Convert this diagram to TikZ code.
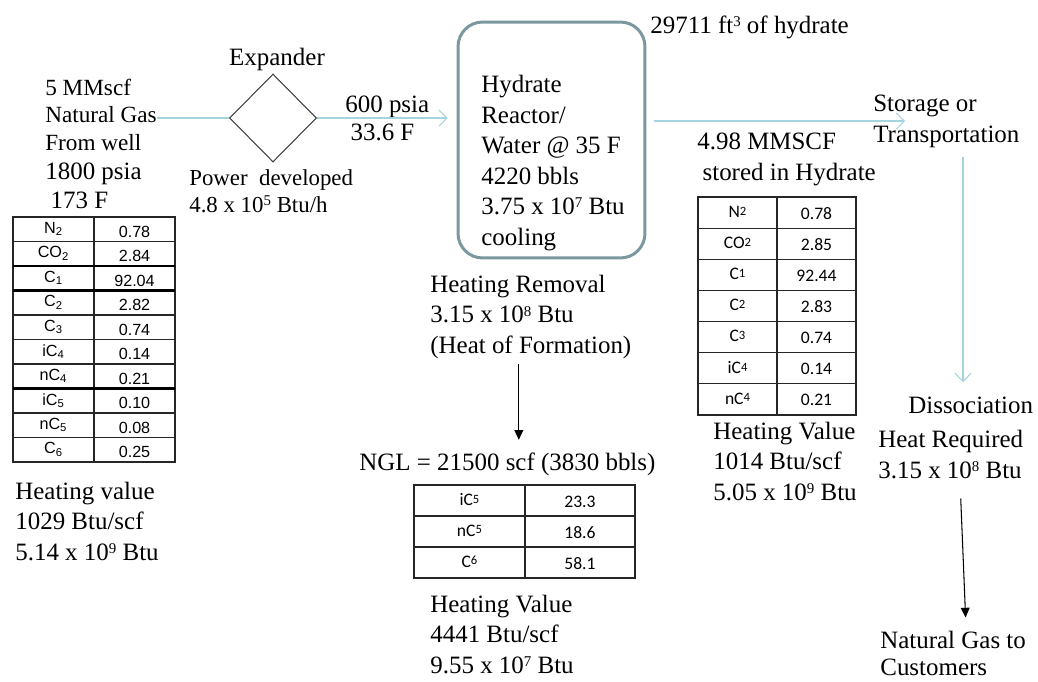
\documentclass[tikz,border=0pt]{standalone}
\usepackage{fontspec}
\setmainfont{Liberation Serif}
\newfontfamily\tabfont{Liberation Sans}
\newfontfamily\celfont{Carlito}
\usetikzlibrary{arrows.meta, shapes.geometric, positioning}

\definecolor{gasblue}{RGB}{165,212,222}
\definecolor{reactorgray}{RGB}{122,152,158}
\newcommand{\smalldigit}[1]{\raisebox{1.3pt}{\fontsize{7.2}{8}\selectfont #1}}
\newcommand{\pow}[1]{\raisebox{3.8pt}{\fontsize{8.5}{9}\selectfont #1}}

\tikzset{
  txt/.style={anchor=base west, inner sep=0pt, align=left, font=\fontsize{14.2}{17.2}\selectfont},
  cell/.style={inner sep=0pt, font=\tabfont\fontsize{9.2}{10}\selectfont},
  calcell/.style={inner sep=0pt, font=\celfont\fontsize{10}{11}\selectfont},
  gasline/.style={draw=gasblue, line width=0.6pt},
  gasarrow/.style={gasline, -{Straight Barb[length=4.5pt,width=9pt]}},
  heatarrow/.style={black, line width=0.6pt, -{Triangle[length=5.5pt,width=5pt]}},
  tabline/.style={black!85, line width=0.6pt},
}

\begin{document}
\begin{tikzpicture}[x=0.02cm, y=-0.02cm]
  \useasboundingbox (0,0) rectangle (1038,681);

  % feed gas (text nodes sit on the baseline of their last line)
  \node[txt, font=\fontsize{13.2}{15.4}\selectfont] (feed) at (45,150) {5 MMscf\\Natural Gas\\From well};
  \node[txt, font=\fontsize{14.2}{16.4}\selectfont] (feedcond) at (45,208) {1800 psia\\\hspace{3pt}173 F};
  \draw[tabline] (13,217) rectangle (175,462); \draw[tabline] (94,217) -- (94,462);
  \foreach \i in {1,...,9} \draw[tabline] (13,217+24.5*\i) -- (175,217+24.5*\i);
  \foreach \i in {2,3,7} \draw[black, line width=1.2pt] (13,217+24.5*\i) -- (175,217+24.5*\i);
  \foreach \sp/\val [count=\i] in {N\textsubscript{2}/0.78, CO\textsubscript{2}/2.84, C\textsubscript{1}/92.04,
      C\textsubscript{2}/2.82, C\textsubscript{3}/0.74, iC\textsubscript{4}/0.14, nC\textsubscript{4}/0.21,
      iC\textsubscript{5}/0.10, nC\textsubscript{5}/0.08, C\textsubscript{6}/0.25} {
    \node[cell] (feedsp\i) at (53.5,204.5+24.5*\i) {\sp};
    \node[cell] (feedval\i) at (134.5,207+24.5*\i) {\val};
  }
  \node[txt] (feedheat) at (15,560) {Heating value\\1029 Btu/scf\\5.14 x 10\pow{9} Btu};

  % expander
  \node[diamond, draw=black!75, line width=0.6pt, minimum width=1.74cm, minimum height=1.76cm, inner sep=0pt] (expander) at (273,118) {};
  \node[txt, anchor=base] (explabel) at (277,65) {Expander};
  \node[txt, font=\fontsize{13}{15.3}\selectfont] (power) at (189,212) {Power\ \ developed\\4.8 x 10\pow{5} Btu/h};
  \node[txt, font=\fontsize{14.2}{15.9}\selectfont] (outcond) at (345,140) {600 psia\\\hspace{3pt}33.6 F};

  % hydrate reactor
  \node[draw=reactorgray, line width=1.7pt, rounded corners=14pt, minimum width=3.74cm, minimum height=4.72cm] (reactor) at (551.5,140) {};
  \node[txt, font=\fontsize{14.2}{17.35}\selectfont] (reactortext) at (481,245) {Hydrate\\Reactor/\\Water @ 35 F\\4220 bbls\\3.75 x 10\pow{7} Btu\\cooling};
  \node[txt] (volume) at (650,33) {29711 ft\pow{3} of hydrate};
  \draw[gasline] (expander.west -| feed.east) -- (expander.west);
  \draw[gasarrow, shorten >=5pt] (expander.east) -- (expander.east -| reactor.west);

  % heat of formation and NGL
  \node[txt] (removal) at (430,353) {Heating Removal\\3.15 x 10\pow{8} Btu\\(Heat of Formation)};
  \node[txt] (ngl) at (359,470) {NGL = 21500 scf (3830 bbls)};
  \path (removal.south) ++(-12,5) coordinate (removalout);
  \draw[heatarrow, shorten >=7pt] (removalout) -- (removalout |- ngl.north);
  \draw[tabline] (414,485) rectangle (635,578); \draw[tabline] (525,485) -- (525,578);
  \foreach \i in {1,2} \draw[tabline] (414,485+31*\i) -- (635,485+31*\i);
  \foreach \sp/\val [count=\i] in {iC\smalldigit{5}/23.3, nC\smalldigit{5}/18.6, C\smalldigit{6}/58.1} {
    \node[calcell] (nglsp\i) at (469.5,468.5+31*\i) {\sp};
    \node[calcell] (nglval\i) at (580,470.5+31*\i) {\val};
  }
  \node[txt] (nglheat) at (430,673) {Heating Value\\4441 Btu/scf\\9.55 x 10\pow{7} Btu};

  % stored gas
  \node[txt] (stored) at (697,180) {4.98 MMSCF\\\hspace{3pt}stored in Hydrate};
  \draw[tabline] (698,197) rectangle (856,415); \draw[tabline] (777,197) -- (777,415);
  \foreach \i in {1,...,6} \draw[tabline] (698,197+31.14*\i) -- (856,197+31.14*\i);
  \foreach \sp/\val [count=\i] in {N\smalldigit{2}/0.78, CO\smalldigit{2}/2.85, C\smalldigit{1}/92.44,
      C\smalldigit{2}/2.83, C\smalldigit{3}/0.74, iC\smalldigit{4}/0.14, nC\smalldigit{4}/0.21} {
    \node[calcell] (storedsp\i) at (737.5,180.5+31.14*\i) {\sp};
    \node[calcell] (storedval\i) at (816.5,182+31.14*\i) {\val};
  }
  \node[txt] (storedheat) at (713,500) {Heating Value\\1014 Btu/scf\\5.05 x 10\pow{9} Btu};

  % storage and dissociation
  \node[txt] (storage) at (873,142) {Storage or\\Transportation};
  \coordinate (storein) at (905,121);
  \draw[gasarrow, shorten <=4pt] (reactor.east |- storein) -- (storein);
  \coordinate (dissin) at (963,382);
  \draw[gasarrow, shorten <=5.5pt] (storage.south -| dissin) -- (dissin);
  \node[txt] (dissociation) at (908,413) {Dissociation};
  \node[txt, font=\fontsize{14.2}{17.5}\selectfont] (heatreq) at (878,478) {Heat Required\\3.15 x 10\pow{8} Btu};
  \node[txt, font=\fontsize{14.2}{15.3}\selectfont] (customers) at (880,675) {Natural Gas to\\Customers};
  \path (heatreq.south) ++(10,20) coordinate (heatout);
  \path (customers.north) ++(12.5,-13) coordinate (custin);
  \draw[heatarrow] (heatout) -- (custin);
\end{tikzpicture}
\end{document}
